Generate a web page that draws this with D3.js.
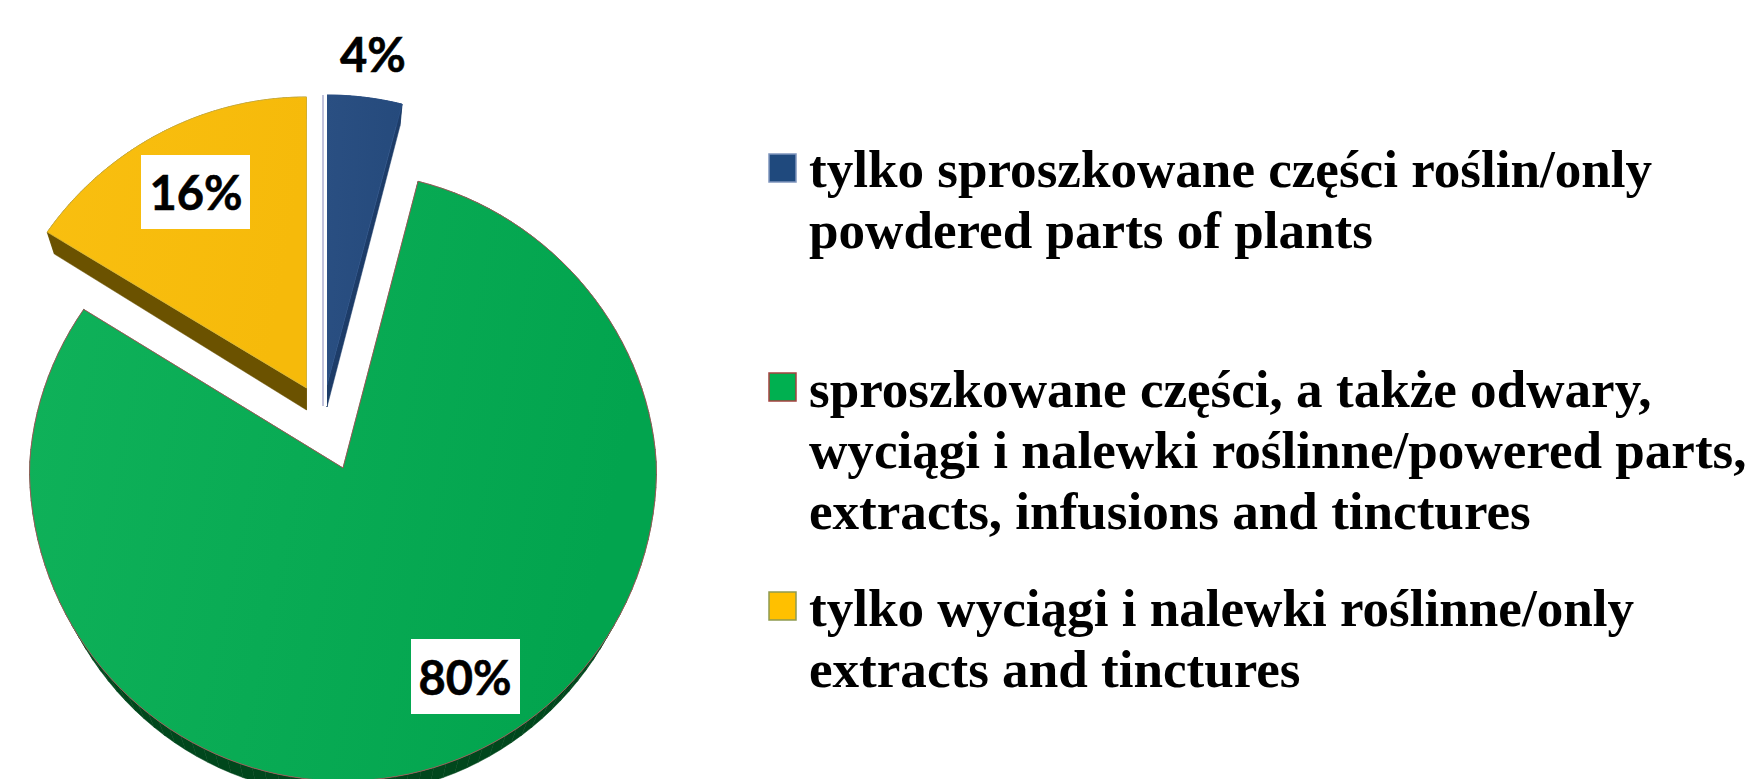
<!DOCTYPE html>
<html>
<head>
<meta charset="utf-8">
<script src="https://cdn.jsdelivr.net/npm/d3@7"></script>
<style>
html, body { margin: 0; padding: 0; background: #fff; overflow: hidden; }
</style>
</head>
<body>
<script>
let w = 1751
let h = 779

let categories = ["tylko sproszkowane", "sproszkowane i wyciagi", "tylko wyciagi"]
let values = [4, 80, 16]
let valueLabels = ["4%", "80%", "16%"]
let legendLines = [
	["tylko sproszkowane części roślin/only", "powdered parts of plants"],
	["sproszkowane części, a także odwary,", "wyciągi i nalewki roślinne/powered parts,", "extracts, infusions and tinctures"],
	["tylko wyciągi i nalewki roślinne/only", "extracts and tinctures"]
]
let sideColors = ["#1d3c68", "#00471c", "#6b5200"]
let edgeColors = ["#2c5288", "#b5505a", "#d8b83a"]
let legendFill = ["#1f497d", "#00b050", "#ffc000"]
let legendEdge = ["#7f95bd", "#a5413f", "#8e9a50"]

// exploded slice geometry: apex and radii, back and front half differ (perspective)
let slices = [
	{ cx: 327, cy: 385, rx: 313.5, rxBottom: 305, back: 290, front: 310, depth: 22 },
	{ cx: 343, cy: 468, rx: 313.5, rxBottom: 304, back: 296, front: 313, depth: 14 },
	{ cx: 306.5, cy: 388, rx: 313.5, rxBottom: 305, back: 291, front: 310, depth: 22 }
]
let labelBoxes = [
	{ x: 372, y: 30, w: 0, h: 0, tx: 373, ty: 72 },
	{ x: 411, y: 639, w: 109, h: 75, tx: 465, ty: 695 },
	{ x: 141, y: 155, w: 109, h: 74, tx: 196, ty: 210 }
]

let svg = d3.select("body").append("svg")
	.attr("width", w)
	.attr("height", h)
	.style("display", "block")

let defs = svg.append("defs")
let gradStops = [["#2a4f82", "#254a7c"], ["#10b25a", "#02a44e"], ["#f9bf10", "#f6ba0a"]]
gradStops.forEach((g, i) => {
	let lg = defs.append("linearGradient").attr("id", "grad" + i)
		.attr("x1", 0).attr("x2", 1).attr("y1", 0).attr("y2", 0.2)
	lg.append("stop").attr("offset", 0).attr("stop-color", g[0])
	lg.append("stop").attr("offset", 1).attr("stop-color", g[1])
})

let pie = d3.pie().sort(null)(values)

// back of the disc is narrower than the front
let narrow = 12
let outer = (s, a, bottom) => {
	let c = Math.cos(a)
	let r = (bottom ? s.rxBottom : s.rx) - narrow * Math.max(c, 0)
	let ry = c > 0 ? s.back : s.front
	return [s.cx + r * Math.sin(a), s.cy - ry * c + (bottom ? s.depth : 0)]
}

let outline = (d, i, bottom) => {
	let s = slices[i]
	let steps = d3.range(0, 121).map(t => d.startAngle + (d.endAngle - d.startAngle) * t / 120)
	return [[s.cx, s.cy + (bottom ? s.depth : 0)]].concat(steps.map(a => outer(s, a, bottom)))
}

let line = d3.line()

// side faces first, one path per face so they never cancel out
let sideFaces = (d, i) => {
	let a = outline(d, i, false)
	let b = outline(d, i, true)
	return a.map((p, k) => {
		let n = (k + 1) % a.length
		return line([p, a[n], b[n], b[k]]) + "Z"
	})
}

svg.selectAll("g.side")
	.data(pie)
	.enter()
	.append("g")
	.attr("class", "side")
	.attr("fill", (d, i) => sideColors[i])
	.attr("stroke", (d, i) => sideColors[i])
	.attr("stroke-width", 0.5)
	.each(function(d, i) {
		d3.select(this).selectAll("path")
			.data(sideFaces(d, i))
			.enter()
			.append("path")
			.attr("d", f => f)
	})

svg.selectAll("path.top")
	.data(pie)
	.enter()
	.append("path")
	.attr("class", "top")
	.attr("fill", (d, i) => "url(#grad" + i + ")")
	.attr("stroke", (d, i) => edgeColors[i])
	.attr("stroke-width", 0.8)
	.attr("d", (d, i) => line(outline(d, i, false)) + "Z")

// thin inner face left of the blue slice
svg.append("rect").attr("x", 322).attr("y", 95).attr("width", 5).attr("height", 311).attr("fill", "#fff")
svg.append("rect").attr("x", 322.4).attr("y", 95).attr("width", 1.2).attr("height", 311).attr("fill", "#9a9cc6")

// value labels
svg.selectAll("rect.box")
	.data(labelBoxes.filter(b => b.w > 0))
	.enter()
	.append("rect")
	.attr("class", "box")
	.attr("x", d => d.x)
	.attr("y", d => d.y)
	.attr("width", d => d.w)
	.attr("height", d => d.h)
	.attr("fill", "#fff")

svg.selectAll("text.value")
	.data(valueLabels)
	.enter()
	.append("text")
	.attr("class", "value")
	.attr("x", (d, i) => labelBoxes[i].tx)
	.attr("y", (d, i) => labelBoxes[i].ty)
	.attr("text-anchor", "middle")
	.attr("font-family", "Lato")
	.attr("font-weight", 700)
	.attr("font-size", 47)
	.attr("stroke", "#000")
	.attr("stroke-width", 0.6)
	.text(d => d)

// legend
let legendY = [154, 373, 592]
let legendBase = [187, 406.5, 626]
let lineGap = 61

let legend = svg.selectAll("g.legend")
	.data(categories)
	.enter()
	.append("g")
	.attr("class", "legend")

legend.append("rect")
	.attr("x", 769)
	.attr("y", (d, i) => legendY[i])
	.attr("width", 27)
	.attr("height", 28)
	.attr("fill", (d, i) => legendFill[i])
	.attr("stroke", (d, i) => legendEdge[i])
	.attr("stroke-width", 1.5)

legend.each(function(d, i) {
	d3.select(this).selectAll("text")
		.data(legendLines[i])
		.enter()
		.append("text")
		.attr("x", 809)
		.attr("y", (t, k) => legendBase[i] + k * lineGap)
		.attr("font-family", "Liberation Serif")
		.attr("font-weight", 700)
		.attr("font-size", 53.1)
		.text(t => t)
})
</script>
</body>
</html>
